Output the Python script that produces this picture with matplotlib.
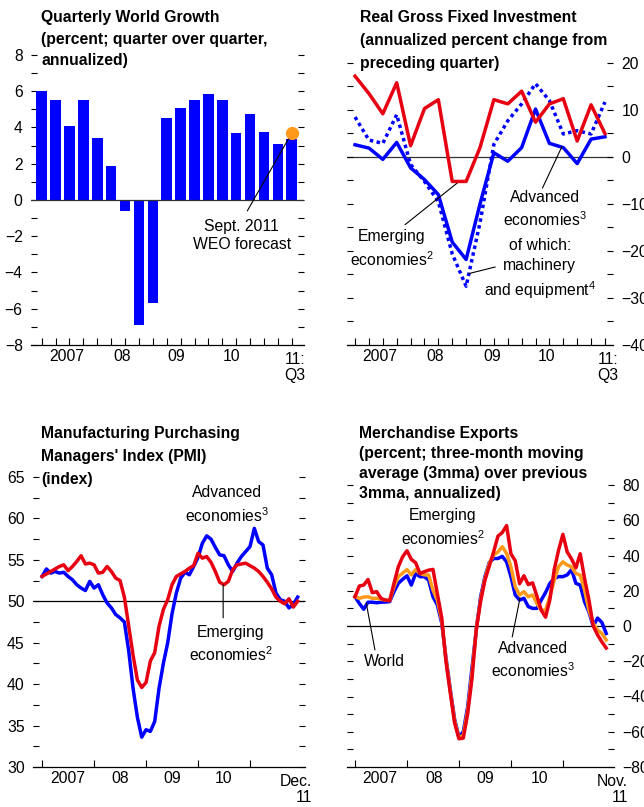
import matplotlib
matplotlib.use("Agg")
import matplotlib.pyplot as plt
import numpy as np

plt.rcParams['font.family'] = ['Liberation Sans', 'DejaVu Sans']
plt.rcParams['mathtext.fontset'] = 'custom'
plt.rcParams['mathtext.rm'] = 'Liberation Sans'
plt.rcParams['mathtext.it'] = 'Liberation Sans'

BLUE = '#0000FF'
RED = '#E60012'
ORANGE = '#FF9A1A'
FS = 11.3
LS = 1.38

# ---------------- data ----------------
# quarterly world growth, 2007Q1 - 2011Q3
world_growth = [6.0, 5.5, 4.1, 5.5, 3.4, 1.9, -0.6, -6.9, -5.7, 4.5, 5.1, 5.5,
                5.85, 5.5, 3.7, 4.75, 3.75, 3.1, 3.35]
weo_forecast = 3.7

# real gross fixed investment, 2007Q1 - 2011Q3
inv_emerging = [17.2, 13.5, 9.2, 15.8, 2.4, 10.3, 12.2, -5.2, -5.2, 2.0, 12.2,
                11.3, 14.0, 7.4, 11.3, 12.4, 3.4, 11.1, 5.0]
inv_advanced = [2.6, 1.9, -0.5, 3.1, -2.3, -4.8, -8.0, -18.1, -21.8, -10.0, 0.9,
                -0.9, 2.0, 10.2, 2.9, 2.0, -1.4, 3.8, 4.3]
inv_machinery = [8.5, 3.6, 2.9, 9.0, -1.6, -5.2, -9.5, -20.6, -27.5, -14.0, 2.7,
                 7.7, 11.3, 15.6, 12.0, 4.9, 5.6, 4.9, 11.7]

# manufacturing PMI, Jan 2007 - Dec 2011
pmi_advanced = [53.0, 53.9, 53.4, 53.6, 53.4, 53.5, 53.0, 52.6, 52.0, 51.6,
                51.3, 52.4, 51.6, 52.0, 50.8, 49.8, 49.2, 48.4, 48.0, 47.5,
                44.0, 39.5, 36.0, 33.6, 34.5, 34.3, 35.5, 39.5, 42.5, 45.0,
                48.5, 51.0, 52.8, 53.5, 53.2, 54.2, 55.3, 57.0, 57.9, 57.5,
                56.5, 55.6, 55.5, 54.4, 53.6, 54.6, 55.4, 56.0, 56.6, 58.8,
                57.2, 56.8, 54.0, 53.2, 51.0, 50.2, 50.0, 49.2, 49.6, 50.5]
pmi_emerging = [53.0, 53.3, 53.6, 53.9, 54.2, 54.4, 53.7, 54.2, 54.8, 55.5,
                54.5, 54.6, 54.4, 53.4, 53.5, 54.2, 53.6, 52.8, 52.5, 50.5,
                47.0, 43.5, 40.5, 39.6, 40.2, 42.8, 43.8, 47.0, 49.0, 50.2,
                52.0, 53.0, 53.3, 53.6, 54.0, 54.3, 55.8, 55.2, 55.4, 54.7,
                53.6, 52.3, 52.0, 52.4, 53.8, 54.4, 54.5, 54.6, 54.3, 54.0,
                53.6, 53.0, 52.3, 51.5, 50.5, 50.0, 49.7, 50.3, 49.3, 50.0]

# merchandise exports, Jan 2007 - Nov 2011
exp_advanced = [16.6, 12.8, 9.5, 13.5, 13.5, 13.2, 13.5, 13.6, 13.8, 19.5,
                24.2, 26.5, 28.5, 23.2, 29.8, 28.0, 28.0, 26.0, 16.6, 12.0,
                2.0, -18.0, -36.0, -53.0, -63.0, -60.0, -46.0, -24.0, -2.0, 16.6,
                28.0, 36.0, 38.3, 38.3, 39.5, 36.4, 28.0, 17.6, 14.7, 15.7,
                11.0, 10.0, 10.0, 14.7, 19.0, 24.2, 27.0, 28.0, 28.0, 29.0,
                32.0, 24.2, 23.2, 13.8, 8.0, 0.0, 4.5, 2.0, -4.2]
exp_world = [16.6, 15.7, 16.4, 16.6, 15.7, 15.7, 15.2, 14.7, 14.4, 22.3,
             28.0, 30.0, 32.0, 29.0, 32.0, 29.8, 29.0, 29.0, 20.4, 14.7,
             3.5, -19.0, -37.0, -54.0, -63.5, -62.0, -48.0, -27.0, -2.0, 15.0,
             27.0, 35.5, 40.2, 42.0, 45.0, 41.2, 33.6, 22.3, 17.6, 19.5,
             16.6, 17.6, 12.8, 9.0, 9.0, 16.6, 26.0, 33.6, 36.4, 34.6,
             33.6, 29.8, 28.9, 20.4, 9.0, 1.5, -2.3, -4.2, -7.9]
exp_emerging = [16.6, 22.7, 23.2, 26.4, 18.9, 19.5, 15.7, 14.7, 14.4, 24.2,
                33.6, 39.3, 42.7, 37.8, 35.9, 29.8, 30.8, 31.7, 32.1, 18.5,
                5.0, -20.0, -38.0, -55.0, -64.0, -63.6, -50.0, -30.0, -2.0, 14.0,
                26.0, 34.0, 42.0, 51.0, 53.0, 57.0, 41.0, 37.0, 24.0, 28.5,
                23.5, 24.5, 17.0, 9.0, 5.0, 15.0, 32.0, 43.0, 52.0, 42.0,
                38.0, 33.0, 41.0, 27.0, 15.0, 0.0, -5.0, -9.0, -12.5]

year_labels = ['2007', '08', '09', '10']

W, H = 644, 807
fig = plt.figure(figsize=(W / 100, H / 100), dpi=100)


def add_axes(left, right, top, bottom):
    return fig.add_axes([left / W, 1 - bottom / H, (right - left) / W, (bottom - top) / H])


def style(ax, label_side):
    for s in ['top', 'left', 'right']:
        ax.spines[s].set_visible(False)
    ax.spines['bottom'].set_linewidth(0.9)
    ax.tick_params(axis='y', which='both', direction='in', length=4, width=0.8,
                   left=True, right=True, labelsize=FS, pad=6,
                   labelleft=(label_side == 'left'), labelright=(label_side == 'right'))
    ax.tick_params(axis='x', which='major', length=0, labelsize=FS, pad=3)
    ax.tick_params(axis='x', which='minor', direction='in', length=5, width=0.8)


def title(x, y, txt, ls):
    fig.text(x / W, 1 - y / H, txt, fontsize=FS, fontweight='bold', va='top',
             ha='left', linespacing=ls)


def note(ax, x, y, txt):
    ax.text(x, y, txt, ha='center', va='center', fontsize=FS, linespacing=LS)


def last_label(ax, x, txt):
    ax.text(x, -0.025, txt, transform=ax.get_xaxis_transform(), ha='right',
            va='top', fontsize=FS, multialignment='right', linespacing=1.05)


def leader(ax, start, end):
    ax.annotate('', xy=end, xytext=start,
                arrowprops=dict(arrowstyle='-', lw=0.8, color='black',
                                shrinkA=0, shrinkB=0))


# ---------- panel 1: quarterly world growth ----------
ax1 = add_axes(31, 304, 55, 345)
q = np.arange(len(world_growth))
ax1.bar(q, world_growth, width=0.76, color=BLUE, zorder=2)
ax1.axhline(0, color='#333333', lw=0.9, zorder=3)
ax1.plot(q[-1], weo_forecast, 'o', color=ORANGE, ms=8.5, zorder=4)
ax1.set_ylim(-8, 8)
ax1.set_xlim(-0.77, 18.88)
ax1.set_yticks(np.arange(-8, 9, 2))
ax1.set_yticks(np.arange(-7, 8, 2), minor=True)
ax1.set_xticks(q, minor=True)
ax1.set_xticks([1.8, 5.8, 9.7, 13.7], year_labels)
style(ax1, 'left')
last_label(ax1, 19.0, '11:\nQ3')
ax1.text(14.4, -1.95, 'Sept. 2011\nWEO forecast', ha='center', va='center',
         fontsize=FS, linespacing=1.25)
leader(ax1, (14.8, -0.6), (q[-1], weo_forecast))
title(41, 10, 'Quarterly World Growth\n(percent; quarter over quarter,\nannualized)', 1.56)

# ---------- panel 2: real gross fixed investment ----------
ax2 = add_axes(347, 613, 63, 345)
q2 = np.arange(len(inv_emerging))
ax2.axhline(0, color='#333333', lw=0.9, zorder=1)
ax2.plot(q2, inv_machinery, color=BLUE, lw=2.5, linestyle=(0, (1, 1)), zorder=2)
ax2.plot(q2, inv_advanced, color=BLUE, lw=2.5, zorder=3)
ax2.plot(q2, inv_emerging, color=RED, lw=2.5, zorder=4)
ax2.set_ylim(-40, 20)
ax2.set_xlim(-0.58, 18.58)
ax2.set_yticks(np.arange(-40, 21, 10))
ax2.set_yticks(np.arange(-35, 20, 10), minor=True)
ax2.set_xticks(q2, minor=True)
ax2.set_xticks([1.8, 5.75, 9.85, 13.8], year_labels)
style(ax2, 'right')
last_label(ax2, 19.0, '11:\nQ3')
note(ax2, 2.66, -19.6, 'Emerging\neconomies$^{2}$')
leader(ax2, (3.6, -14.4), (7.5, -5.2))
note(ax2, 13.7, -11.2, 'Advanced\neconomies$^{3}$')
leader(ax2, (13.5, -6.6), (14.9, 2.2))
note(ax2, 13.3, -24.0, 'of which:\nmachinery\nand equipment$^{4}$')
leader(ax2, (10.1, -23.4), (8.2, -24.8))
title(360, 10, 'Real Gross Fixed Investment\n(annualized percent change from\npreceding quarter)', 1.66)

# ---------- panel 3: PMI ----------
ax3 = add_axes(33, 305, 477, 767)
m3 = np.arange(len(pmi_advanced))
ax3.axhline(50, color='black', lw=0.9, zorder=1)
ax3.plot(m3, pmi_advanced, color=BLUE, lw=2.5, zorder=2)
ax3.plot(m3, pmi_emerging, color=RED, lw=2.5, zorder=3)
ax3.set_ylim(30, 65)
ax3.set_xlim(-2.1, 60.7)
ax3.set_yticks(np.arange(30, 66, 5))
ax3.set_yticks(np.arange(32.5, 65, 5), minor=True)
ax3.set_xticks(np.arange(0, 60, 12), minor=True)
ax3.set_xticks([6, 18, 30, 42], year_labels)
style(ax3, 'left')
last_label(ax3, 62.4, 'Dec.\n11')
note(ax3, 42.7, 61.6, 'Advanced\neconomies$^{3}$')
note(ax3, 43.6, 44.8, 'Emerging\neconomies$^{2}$')
leader(ax3, (41.8, 48.0), (41.8, 52.0))
title(41, 426, 'Manufacturing Purchasing\nManagers\' Index (PMI)\n(index)', 1.68)

# ---------- panel 4: merchandise exports ----------
ax4 = add_axes(347, 614, 485, 767)
m4 = np.arange(len(exp_world))
ax4.axhline(0, color='black', lw=0.9, zorder=1)
ax4.plot(m4, exp_advanced, color=BLUE, lw=2.5, zorder=2)
ax4.plot(m4, exp_world, color=ORANGE, lw=2.5, zorder=3)
ax4.plot(m4, exp_emerging, color=RED, lw=2.5, zorder=4)
ax4.set_ylim(-80, 80)
ax4.set_xlim(-1.85, 59.8)
ax4.set_yticks(np.arange(-80, 81, 20))
ax4.set_yticks(np.arange(-70, 80, 20), minor=True)
ax4.set_xticks(np.arange(0, 59, 12), minor=True)
ax4.set_xticks([5.8, 18.2, 30.0, 42.5], year_labels)
style(ax4, 'right')
last_label(ax4, 63.0, 'Nov.\n11')
note(ax4, 20.3, 55.5, 'Emerging\neconomies$^{2}$')
ax4.text(6.7, -20.4, 'World', ha='center', va='center', fontsize=FS)
leader(ax4, (4.6, -13.6), (2.6, 13.0))
note(ax4, 41.1, -19.6, 'Advanced\neconomies$^{3}$')
leader(ax4, (36.3, -6.2), (38.1, 15.9))
title(359, 426, 'Merchandise Exports\n(percent; three-month moving\naverage (3mma) over previous\n3mma, annualized)', 1.43)

fig.savefig('out.png', dpi=100, facecolor='white')
